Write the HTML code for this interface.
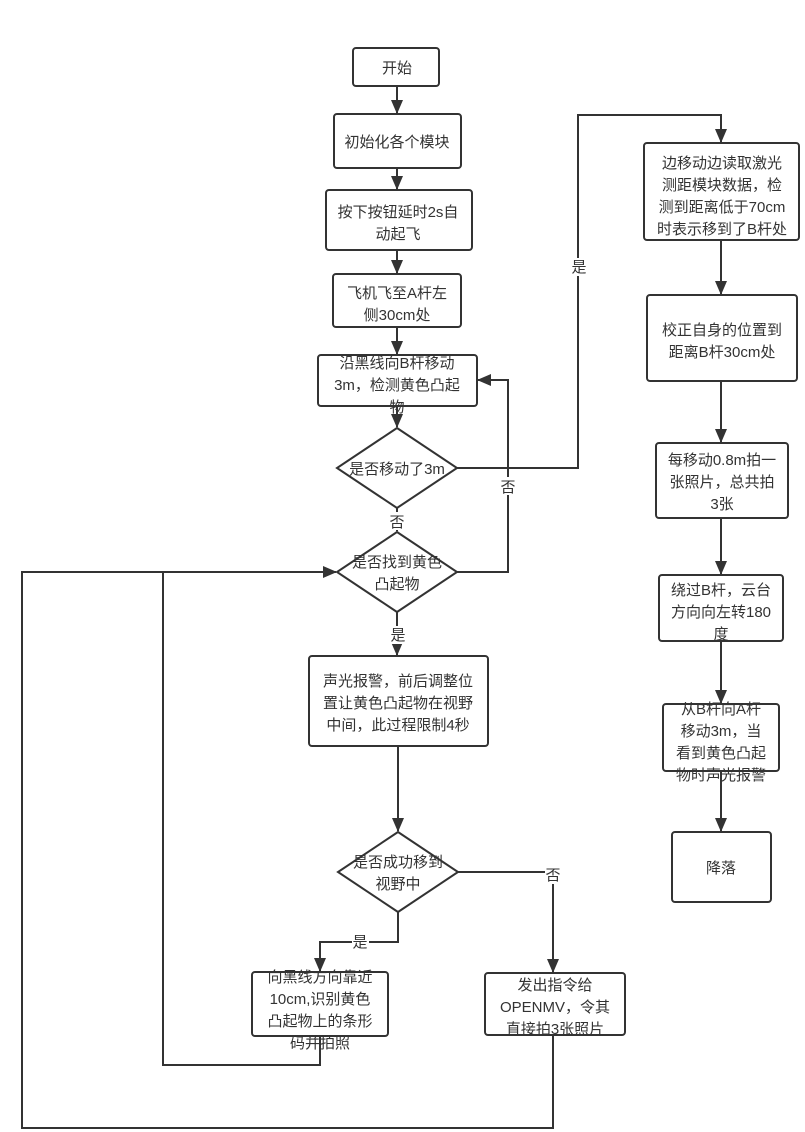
<!DOCTYPE html>
<html><head><meta charset="utf-8"><style>
html,body{margin:0;padding:0;background:#fff;}
svg{display:block;}
text{font-family:"Liberation Sans","Noto Sans CJK SC",sans-serif;font-size:15px;fill:#333;text-anchor:middle;}
.b{fill:#fff;stroke:#333;stroke-width:2;}
.l{fill:none;stroke:#333;stroke-width:2;}
</style></head><body>
<svg width="805" height="1132" viewBox="0 0 805 1132">
<defs><marker id="a" markerWidth="14" markerHeight="12" refX="13" refY="6" orient="auto" markerUnits="userSpaceOnUse"><path d="M0,0 L14,6 L0,12 z" fill="#333"/></marker></defs>
<!-- boxes -->
<rect class="b" x="353" y="48" width="86" height="38" rx="3"/>
<text x="397" y="73">开始</text>
<rect class="b" x="334" y="114" width="127" height="54" rx="3"/>
<text x="397" y="147">初始化各个模块</text>
<rect class="b" x="326" y="190" width="146" height="60" rx="3"/>
<text x="398" y="217">按下按钮延时2s自</text><text x="398" y="239">动起飞</text>
<rect class="b" x="333" y="274" width="128" height="53" rx="3"/>
<text x="397" y="298">飞机飞至A杆左</text><text x="397" y="320">侧30cm处</text>
<rect class="b" x="318" y="355" width="159" height="51" rx="3"/>
<text x="397" y="368">沿黑线向B杆移动</text><text x="397" y="390">3m，检测黄色凸起</text><text x="397" y="412">物</text>
<polygon class="b" points="397,428 457,468 397,508 337,468"/>
<text x="397" y="474">是否移动了3m</text>
<polygon class="b" points="397,532 457,572 397,612 337,572"/>
<text x="397" y="567">是否找到黄色</text><text x="397" y="589">凸起物</text>
<rect class="b" x="309" y="656" width="179" height="90" rx="3"/>
<text x="398" y="686">声光报警，前后调整位</text><text x="398" y="708">置让黄色凸起物在视野</text><text x="398" y="730">中间，此过程限制4秒</text>
<polygon class="b" points="398,832 458,872 398,912 338,872"/>
<text x="398" y="867">是否成功移到</text><text x="398" y="889">视野中</text>
<rect class="b" x="252" y="972" width="136" height="64" rx="3"/>
<text x="320" y="982">向黑线方向靠近</text><text x="320" y="1004">10cm,识别黄色</text><text x="320" y="1026">凸起物上的条形</text><text x="320" y="1048">码并拍照</text>
<rect class="b" x="485" y="973" width="140" height="62" rx="3"/>
<text x="555" y="990">发出指令给</text><text x="555" y="1012">OPENMV，令其</text><text x="555" y="1034">直接拍3张照片</text>
<rect class="b" x="644" y="143" width="155" height="97" rx="3"/>
<text x="722" y="168">边移动边读取激光</text><text x="722" y="190">测距模块数据，检</text><text x="722" y="212">测到距离低于70cm</text><text x="722" y="234">时表示移到了B杆处</text>
<rect class="b" x="647" y="295" width="150" height="86" rx="3"/>
<text x="722" y="335">校正自身的位置到</text><text x="722" y="357">距离B杆30cm处</text>
<rect class="b" x="656" y="443" width="132" height="75" rx="3"/>
<text x="722" y="465">每移动0.8m拍一</text><text x="722" y="487">张照片，总共拍</text><text x="722" y="509">3张</text>
<rect class="b" x="659" y="575" width="124" height="66" rx="3"/>
<text x="721" y="595">绕过B杆，云台</text><text x="721" y="617">方向向左转180</text><text x="721" y="639">度</text>
<rect class="b" x="663" y="704" width="116" height="67" rx="3"/>
<text x="721" y="714">从B杆向A杆</text><text x="721" y="736">移动3m，当</text><text x="721" y="758">看到黄色凸起</text><text x="721" y="780">物时声光报警</text>
<rect class="b" x="672" y="832" width="99" height="70" rx="3"/>
<text x="721" y="873">降落</text>
<!-- connectors -->
<g class="l">
<path d="M397,86 V113" marker-end="url(#a)"/>
<path d="M397,168 V189" marker-end="url(#a)"/>
<path d="M397,250 V273" marker-end="url(#a)"/>
<path d="M397,327 V354" marker-end="url(#a)"/>
<path d="M397,406 V427" marker-end="url(#a)"/>
<path d="M397,508 V531"/>
<path d="M457,468 H578 V115 H721 V142" marker-end="url(#a)"/>
<path d="M457,572 H508 V380 H478" marker-end="url(#a)"/>
<path d="M397,612 V655" marker-end="url(#a)"/>
<path d="M398,746 V831" marker-end="url(#a)"/>
<path d="M458,872 H553 V972" marker-end="url(#a)"/>
<path d="M398,912 V942 H320 V971" marker-end="url(#a)"/>
<path d="M320,1036 V1065 H163 V572"/>
<path d="M553,1035 V1128 H22 V572 H336" marker-end="url(#a)"/>
<path d="M721,240 V294" marker-end="url(#a)"/>
<path d="M721,381 V442" marker-end="url(#a)"/>
<path d="M721,518 V574" marker-end="url(#a)"/>
<path d="M721,641 V703" marker-end="url(#a)"/>
<path d="M721,771 V831" marker-end="url(#a)"/>
</g>
<!-- labels -->
<rect x="389" y="512" width="17" height="18" fill="#fff"/>
<rect x="500" y="477" width="17" height="18" fill="#fff"/>
<rect x="570" y="258" width="17" height="18" fill="#fff"/>
<rect x="390" y="626" width="17" height="18" fill="#fff"/>
<rect x="352" y="933" width="17" height="18" fill="#fff"/>
<rect x="545" y="866" width="17" height="18" fill="#fff"/>
<text x="397" y="527">否</text>
<text x="508" y="492">否</text>
<text x="579" y="272">是</text>
<text x="398" y="640">是</text>
<text x="360" y="947">是</text>
<text x="553" y="880">否</text>
</svg>
</body></html>
